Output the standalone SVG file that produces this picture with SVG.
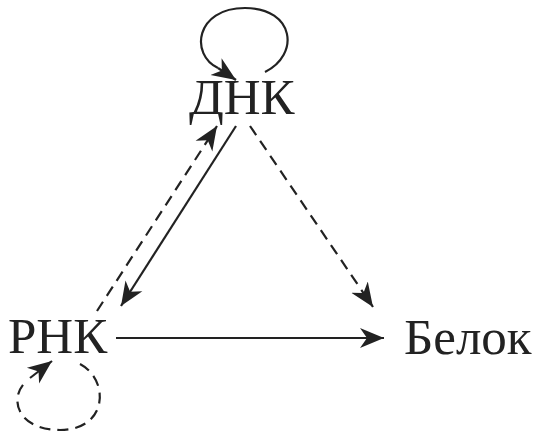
<svg xmlns="http://www.w3.org/2000/svg" width="535" height="437" viewBox="0 0 535 437">
<style>
.lbl{font-family:"Liberation Serif","Times New Roman",serif;font-size:51px;fill:#222}
.ln{fill:none;stroke:#222;stroke-width:2.2}
.ds{stroke-dasharray:11 7}
</style>
<defs>
<marker id="ah" markerUnits="userSpaceOnUse" markerWidth="30" markerHeight="30" refX="24" refY="10" orient="auto" viewBox="0 0 30 20">
<path d="M24,10 L0,0 L7,10 L0,20 Z" fill="#222"/>
</marker>
</defs>
<rect width="535" height="437" fill="#fff"/>
<g id="connectors">
<path class="ln" d="M265,72 C300,55 295,8 245,8 C195,8 190,55 218,68" />
<path class="ln" d="M218,68 L236,80" marker-end="url(#ah)" stroke="none"/>
<path class="ln" d="M236,126 L121,306" marker-end="url(#ah)"/>
<path class="ln ds" d="M97,311 L217,126" marker-end="url(#ah)"/>
<path class="ln ds" d="M250,126 L373,307" marker-end="url(#ah)"/>
<path class="ln" d="M116,338 L384,338" marker-end="url(#ah)"/>
<path class="ln ds" d="M80,364 C110,380 108,430 60,430 C15,430 8,395 28,380" />
<path class="ln" d="M30,378 L52,361" marker-end="url(#ah)" stroke="none"/>
</g>
<g id="dnk"><text class="lbl" x="189" y="114">ДНК</text></g>
<g id="rnk"><text class="lbl" x="8" y="353">РНК</text></g>
<g id="belok"><text class="lbl" x="404" y="354">Белок</text></g>
</svg>
